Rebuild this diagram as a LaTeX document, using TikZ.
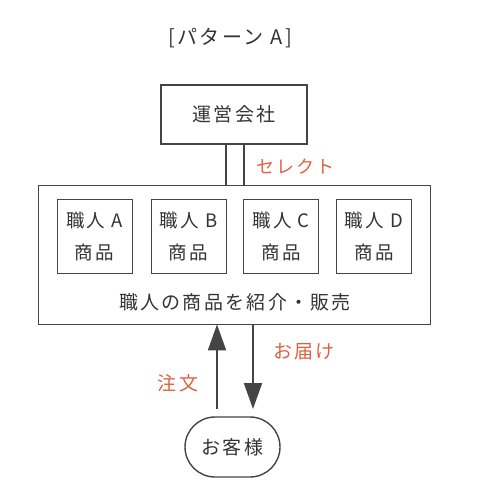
\documentclass[tikz,border=0pt]{standalone}
\usepackage{fontspec}
\setmainfont{Noto Sans CJK JP}[LetterSpace=12]
\usetikzlibrary{arrows.meta,calc}
\definecolor{linegray}{HTML}{444444}
\definecolor{txtgray}{HTML}{333333}
\definecolor{accent}{HTML}{E0613F}
\tikzset{
  box/.style={draw=linegray, line width=1.1pt, inner sep=0pt},
  smallbox/.style={draw=linegray, line width=0.8pt, minimum width=75pt, minimum height=74pt, inner sep=0pt, align=center, font=\fontsize{18.5pt}{32pt}\selectfont, text=txtgray},
  lbl/.style={text=accent, font=\fontsize{19pt}{22pt}\selectfont},
  arr/.style={draw=linegray, line width=2pt, -{Triangle[length=26pt,width=18pt]}},
}
\begin{document}
\begin{tikzpicture}[x=1pt,y=1pt]
\useasboundingbox (0,0) rectangle (483,-493);
\node[text=txtgray, font=\fontsize{20pt}{22pt}\selectfont] (title) at (230,-38) {[パターン A]};
\node[box, minimum width=146pt, minimum height=59pt, text=txtgray, font=\fontsize{19pt}{22pt}\selectfont] (company) at (234,-114.5) {運営会社};
\node[draw=linegray, line width=0.8pt, minimum width=392pt, minimum height=139pt, inner sep=0pt] (big) at (234,-254.5) {};
\node[smallbox] (a) at (94.5,-236) {職人 A\\商品};
\node[smallbox] (b) at (188.5,-236) {職人 B\\商品};
\node[smallbox] (c) at (281,-236) {職人 C\\商品};
\node[smallbox] (d) at (374,-236) {職人 D\\商品};
\node[text=txtgray, font=\fontsize{19pt}{22pt}\selectfont] (desc) at (235,-302) {職人の商品を紹介・販売};
\draw[linegray, line width=1.1pt] ([xshift=-8pt]company.south) -- ([xshift=-8pt]company.south |- big.north);
\draw[linegray, line width=1.1pt] ([xshift=10pt]company.south) -- ([xshift=10pt]company.south |- big.north);
\node[lbl, font=\fontsize{18pt}{22pt}\selectfont, anchor=west] (select) at (253,-167) {セレクト};
\node[box, line width=1.4pt, minimum width=95pt, minimum height=60pt, rounded corners=30pt, text=txtgray, font=\fontsize{19pt}{22pt}\selectfont] (cust) at (232.5,-447) {お客様};
\coordinate (u1) at (217,-409);
\coordinate (d1) at (253,-409);
\draw[arr] (u1) -- (u1 |- big.south);
\draw[arr] (d1 |- big.south) -- (d1);
\node[lbl] (order) at (178,-383) {注文};
\node[lbl] (deliver) at (304,-352) {お届け};
\end{tikzpicture}
\end{document}
